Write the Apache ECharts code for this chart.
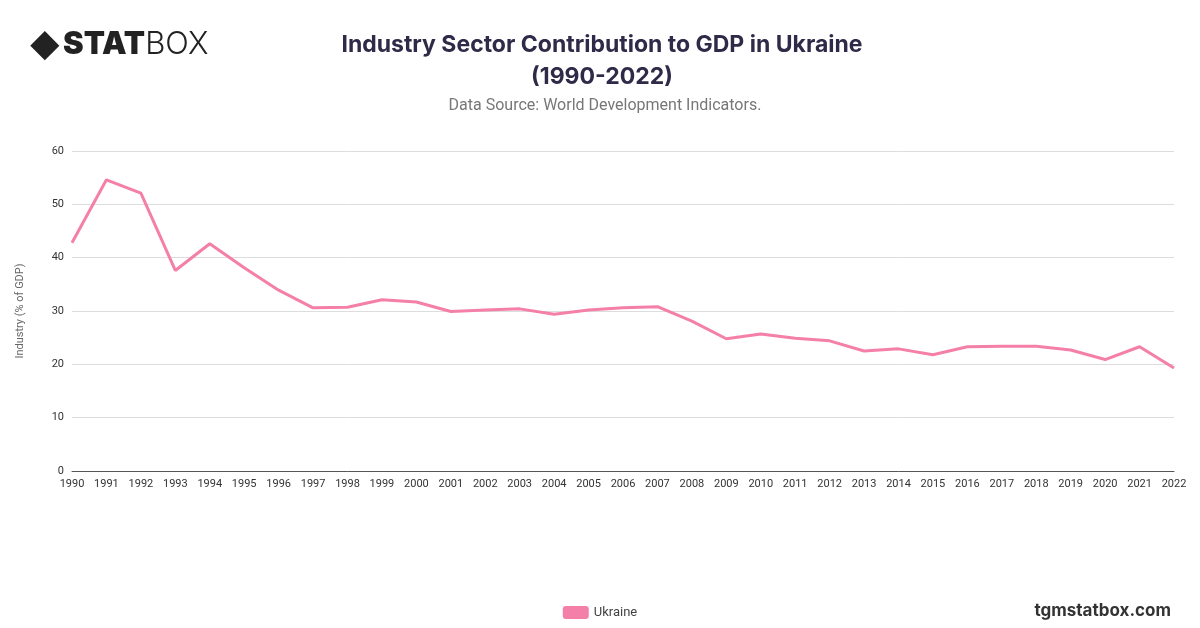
<!DOCTYPE html>
<html>
<head>
<meta charset="utf-8">
<script src="https://cdn.jsdelivr.net/npm/echarts@6/dist/echarts.min.js"></script>
<style>
  html, body { margin: 0; padding: 0; background: #fff; }
  #chart { width: 1200px; height: 628px; }
</style>
</head>
<body>
<div id="chart"></div>
<script>
const years = [];
for (let y = 1990; y <= 2022; y++) years.push(String(y));

const ukraine = [42.8, 54.6, 52.1, 37.6, 42.6, 38.1, 33.9, 30.6, 30.7, 32.1, 31.7,
  29.9, 30.2, 30.4, 29.4, 30.2, 30.6, 30.8, 28.1, 24.8, 25.7, 24.9, 24.4,
  22.5, 22.9, 21.8, 23.3, 23.4, 23.4, 22.7, 20.9, 23.3, 19.3];

const chart = echarts.init(document.getElementById('chart'));

const option = {
  animation: false,
  title: [
    {
      text: 'Industry Sector Contribution to GDP in Ukraine\n(1990-2022)',
      left: 597, top: 24, textAlign: 'center',
      textStyle: { fontFamily: 'Inter', fontSize: 23, fontWeight: 'bold', color: '#2e2a47', lineHeight: 32 },
    },
    {
      text: 'Data Source: World Development Indicators.',
      left: 600, top: 93, textAlign: 'center',
      textStyle: { fontFamily: 'Roboto', fontSize: 16, fontWeight: 'normal', color: '#777' },
    },
    {
      text: '{icon|◆}{a|STAT}{b|BOX}',
      left: 26, top: 22,
      textStyle: {
        rich: {
          icon: { fontSize: 36, color: '#222', padding: [0, 4, 0, 0] },
          a: { fontFamily: 'Inter', fontSize: 31, fontWeight: 900, color: '#222' },
          b: { fontFamily: 'Inter', fontSize: 31, fontWeight: 300, color: '#222' },
        },
      },
    },
    {
      text: 'tgmstatbox.com',
      right: 24, top: 597,
      textStyle: { fontFamily: 'Inter', fontSize: 17, fontWeight: 'bold', color: '#333' },
    },
  ],
  legend: {
    bottom: 4, left: 'center',
    itemWidth: 26, itemHeight: 13,
    icon: 'roundRect',
    textStyle: { fontFamily: 'Roboto', fontSize: 13, color: '#444' },
    data: ['Ukraine'],
  },
  grid: { left: 72, right: 26, top: 151, bottom: 157 },
  xAxis: {
    type: 'category',
    data: years,
    boundaryGap: false,
    axisLine: { lineStyle: { color: '#555' } },
    axisTick: { show: false },
    axisLabel: { interval: 0, fontFamily: 'Roboto', fontSize: 11, color: '#333' },
  },
  yAxis: {
    type: 'value',
    min: 0, max: 60, interval: 10,
    name: 'Industry (% of GDP)',
    nameLocation: 'middle', nameGap: 46,
    nameTextStyle: { fontFamily: 'Roboto', fontSize: 11, color: '#666' },
    axisLabel: { fontFamily: 'Roboto', fontSize: 11, color: '#333' },
    splitLine: { lineStyle: { color: '#ddd' } },
  },
  series: [
    {
      name: 'Ukraine',
      type: 'line',
      data: ukraine,
      showSymbol: false,
      color: '#f47fa8',
      lineStyle: { width: 3, color: '#f47fa8' },
    },
  ],
};

chart.setOption(option);
</script>
</body>
</html>
